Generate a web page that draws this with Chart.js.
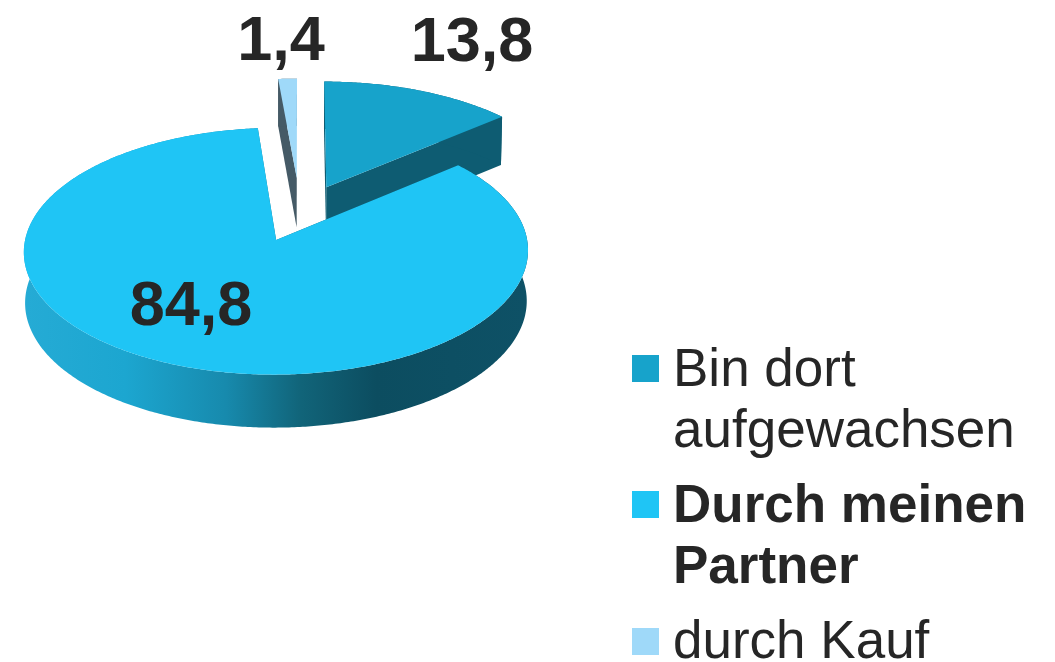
<!DOCTYPE html>
<html lang="de">
<head>
<meta charset="utf-8">
<title>Pie</title>
<script src="https://cdn.jsdelivr.net/npm/chart.js@4"></script>
<style>
  html, body { margin: 0; background: #fff; overflow: hidden; }
  #wrap { position: relative; width: 1055px; height: 662px; }
  #chart { position: absolute; left: 0; top: 0; }
  .item { position: absolute; left: 673px; width: 370px; font: 53px/61px "Liberation Sans", Arial, sans-serif; color: #262626; }
  .item i { position: absolute; left: -41px; width: 27px; height: 27px; }
</style>
</head>
<body>
<div id="wrap">
  <canvas id="chart" width="1055" height="662"></canvas>
</div>
<script>
/* --------- data --------- */
const categories = ["Bin dort aufgewachsen", "Durch meinen Partner", "durch Kauf"];
const values = [13.8, 84.8, 1.4];

/* --------- styles --------- */
const topColors = ["#17a3cb", "#1fc5f5", "#9fd9f9"];
const wallColors = ["#0e5c72", null, "#455a66"];
const explode = [0.25, 0.24, 0.308];       // slice pull-out, in radii
const sliceScale = [1.02, 1, 0.97];
const sliceShift = [2, 0, 1];              // px
const drawOrder = [2, 0, 1];
const labelPos = [[472, 61], [191, 325], [281, 60]];
const legendTop = [337, 473, 609];
const swatchTop = [18, 18, 19];
const legendBold = [false, true, false];

// ground plane -> screen (simple perspective)
const cam = { x0: 299, y0: 213.3, rx: 246, ry: 117.5, p: 0.09, depth: 50 };

function project(u, v, dx) {
  const s = 1 / (1 - cam.p * v);
  return { x: cam.x0 + dx + cam.rx * u * s, y: cam.y0 + cam.ry * v * s, s };
}
function lower(pt) {
  return { x: 276 + (pt.x - 276) * 0.995, y: pt.y + cam.depth * Math.sqrt(pt.s) };
}

function tracePoly(ctx, pts) {
  ctx.beginPath();
  pts.forEach((p, i) => (i ? ctx.lineTo(p.x, p.y) : ctx.moveTo(p.x, p.y)));
  ctx.closePath();
}

/* --------- 3d pie plugin --------- */
const pie3d = {
  id: "pie3d",
  beforeDatasetDraw(chart) {
    const ctx = chart.ctx;
    const arcs = chart.getDatasetMeta(0).data;

    drawOrder.forEach((i) => {
      const { startAngle, endAngle } = arcs[i].getProps(["startAngle", "endAngle"], true);
      const mid = (startAngle + endAngle) / 2;
      const cu = Math.cos(mid) * explode[i];
      const cv = Math.sin(mid) * explode[i];
      const r = sliceScale[i];

      const rim = [];
      const steps = Math.ceil((endAngle - startAngle) / 0.01);
      for (let k = 0; k <= steps; k++) {
        const a = startAngle + ((endAngle - startAngle) * k) / steps;
        rim.push(project(cu + r * Math.cos(a), cv + r * Math.sin(a), sliceShift[i]));
      }
      const apex = project(cu, cv, sliceShift[i]);
      const first = rim[0];
      const last = rim[rim.length - 1];

      let wall = wallColors[i];
      if (!wall) {
        wall = ctx.createLinearGradient(25, 0, 527, 0);
        wall.addColorStop(0, "#25abd5");
        wall.addColorStop(0.2, "#1ca6d0");
        wall.addColorStop(0.4, "#178aad");
        wall.addColorStop(0.55, "#116479");
        wall.addColorStop(0.7, "#0c4d60");
        wall.addColorStop(1, "#0e5166");
      }
      ctx.fillStyle = wall;

      // radial walls
      [first, last].forEach((p) => {
        tracePoly(ctx, [apex, p, lower(p), lower(apex)]);
        ctx.fill();
      });
      // outer wall
      tracePoly(ctx, rim.concat(rim.map(lower).reverse()));
      ctx.fill();
      // top face
      ctx.fillStyle = topColors[i];
      tracePoly(ctx, [apex].concat(rim));
      ctx.fill();
    });
    return false; // faces are drawn above, skip the flat arcs
  },
  afterDatasetsDraw(chart) {
    const ctx = chart.ctx;
    ctx.save();
    ctx.font = 'bold 63px "Liberation Sans", Arial, sans-serif';
    ctx.fillStyle = "#262626";
    ctx.textAlign = "center";
    ctx.textBaseline = "alphabetic";
    values.forEach((v, i) => {
      ctx.fillText(v.toFixed(1).replace(".", ","), labelPos[i][0], labelPos[i][1]);
    });
    ctx.restore();
  },
};

/* --------- chart --------- */
new Chart(document.getElementById("chart"), {
  type: "pie",
  data: {
    labels: categories,
    datasets: [{ data: values, backgroundColor: topColors, borderWidth: 0 }],
  },
  options: {
    responsive: false,
    animation: false,
    plugins: { legend: { display: false }, tooltip: { enabled: false } },
  },
  plugins: [pie3d],
});

/* --------- legend --------- */
const wrap = document.getElementById("wrap");
categories.forEach((name, i) => {
  const el = document.createElement("div");
  el.className = "item";
  el.style.top = legendTop[i] + "px";
  if (legendBold[i]) el.style.fontWeight = "bold";
  el.textContent = name;
  const box = document.createElement("i");
  box.style.background = topColors[i];
  box.style.top = swatchTop[i] + "px";
  el.appendChild(box);
  wrap.appendChild(el);
});
</script>
</body>
</html>
